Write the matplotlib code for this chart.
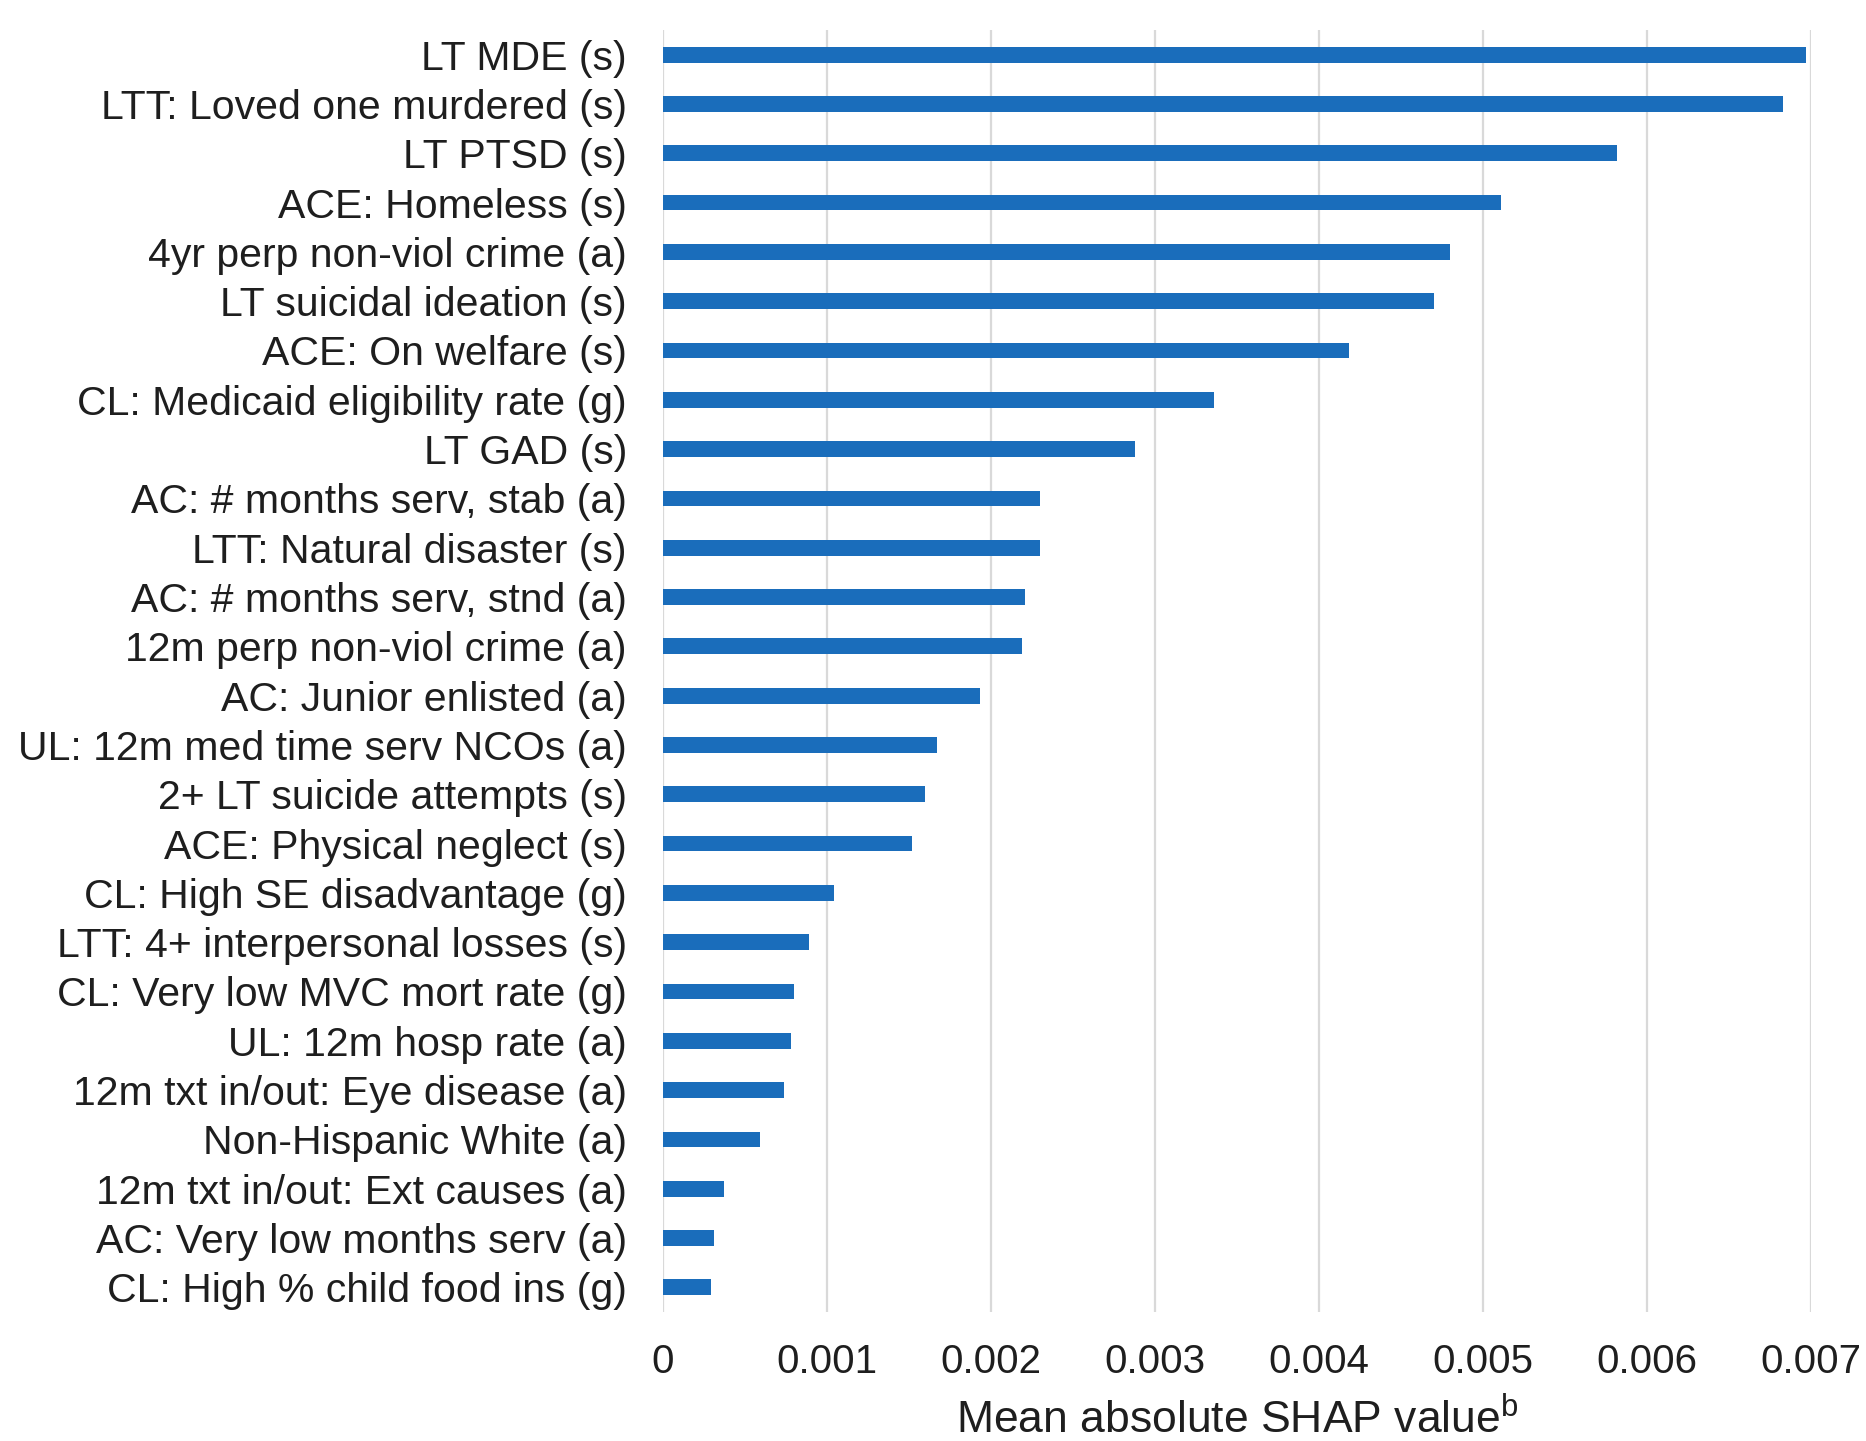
import matplotlib
matplotlib.use('Agg')
import matplotlib.pyplot as plt
import numpy as np

plt.rcParams['font.family'] = ['Liberation Sans', 'DejaVu Sans']
plt.rcParams['mathtext.fontset'] = 'custom'
plt.rcParams['mathtext.rm'] = 'Liberation Sans'

# feature names, ordered from most to least important
features = [
    "LT MDE (s)",
    "LTT: Loved one murdered (s)",
    "LT PTSD (s)",
    "ACE: Homeless (s)",
    "4yr perp non-viol crime (a)",
    "LT suicidal ideation (s)",
    "ACE: On welfare (s)",
    "CL: Medicaid eligibility rate (g)",
    "LT GAD (s)",
    "AC: # months serv, stab (a)",
    "LTT: Natural disaster (s)",
    "AC: # months serv, stnd (a)",
    "12m perp non-viol crime (a)",
    "AC: Junior enlisted (a)",
    "UL: 12m med time serv NCOs (a)",
    "2+ LT suicide attempts (s)",
    "ACE: Physical neglect (s)",
    "CL: High SE disadvantage (g)",
    "LTT: 4+ interpersonal losses (s)",
    "CL: Very low MVC mort rate (g)",
    "UL: 12m hosp rate (a)",
    "12m txt in/out: Eye disease (a)",
    "Non-Hispanic White (a)",
    "12m txt in/out: Ext causes (a)",
    "AC: Very low months serv (a)",
    "CL: High % child food ins (g)",
]

mean_abs_shap = [
    0.00697, 0.00683, 0.00582, 0.00511, 0.00480, 0.00470, 0.00418,
    0.00336, 0.00288, 0.00230, 0.00230, 0.00221, 0.00219, 0.00193,
    0.00167, 0.00160, 0.00152, 0.00104, 0.00089, 0.00080, 0.00078,
    0.00074, 0.00059, 0.00037, 0.00031, 0.00029,
]

x_ticks = [0, 0.001, 0.002, 0.003, 0.004, 0.005, 0.006, 0.007]
x_tick_labels = ["0", "0.001", "0.002", "0.003", "0.004", "0.005", "0.006", "0.007"]

W, H = 1866, 1441
fig = plt.figure(figsize=(W / 100, H / 100), dpi=100)
ax = fig.add_axes([663 / W, 129 / H, (1811 - 663) / W, (1312 - 30) / H])

y = np.arange(len(features))
ax.barh(y, mean_abs_shap, height=0.32, color='#1a6dbb', zorder=3)

ax.set_xlim(0, 0.007)
ax.set_ylim(len(features) - 0.5, -0.5)
ax.set_yticks(y)
ax.set_yticklabels(features, fontsize=29.5, color='#1e1e1e')
ax.set_xticks(x_ticks)
ax.set_xticklabels(x_tick_labels, fontsize=29, color='#1e1e1e')
ax.tick_params(axis='both', length=0)
ax.tick_params(axis='y', pad=26)
ax.tick_params(axis='x', pad=22)

ax.grid(axis='x', color='#d9d9d9', linewidth=1.6, zorder=0)
for s in ax.spines.values():
    s.set_visible(False)

# x-axis title, centred under the plotting area
fig.text((663 + 1811) / 2 / W, 1 - 1420 / H, 'Mean absolute SHAP value$^{\\mathrm{b}}$',
         ha='center', va='center', fontsize=32, color='#1e1e1e')

fig.savefig('out.png', dpi=100, facecolor='white')
